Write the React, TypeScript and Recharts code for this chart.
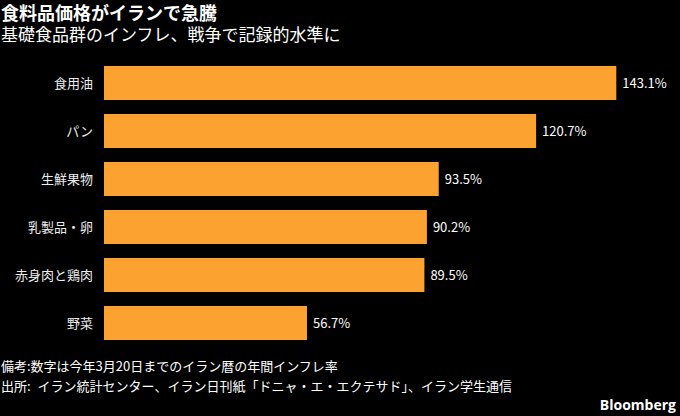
import { BarChart, Bar, XAxis, YAxis, LabelList } from 'recharts'

const categories = ['食用油', 'パン', '生鮮果物', '乳製品・卵', '赤身肉と鶏肉', '野菜']
const inflation = [143.1, 120.7, 93.5, 90.2, 89.5, 56.7]

const data = categories.map((name, i) => ({ name, value: inflation[i] }))

const T = {
  bg: '#000000', bar: '#FBA230', text: '#FFFFFF', label: '#EDEDED',
  font: '"Noto Sans CJK JP", "Noto Sans", sans-serif',
} as const

export default function App() {
  return (
    <div style={{
      position: 'absolute', left: 0, top: 0, width: 680, height: 416,
      backgroundColor: T.bg, fontFamily: T.font, color: T.text, overflow: 'hidden',
    }}>
      <div style={{ position: 'absolute', left: 1, top: 2, fontSize: 18, fontWeight: 700, lineHeight: '20px' }}>
        食料品価格がイランで急騰
      </div>
      <div style={{ position: 'absolute', left: 1, top: 24, fontSize: 17, lineHeight: '20px' }}>
        基礎食品群のインフレ、戦争で記録的水準に
      </div>

      <div style={{ position: 'absolute', left: 0, top: 59 }}>
        <BarChart
          width={680}
          height={288}
          data={data}
          layout="vertical"
          margin={{ top: 0, right: 39, left: 0, bottom: 0 }}
          barCategoryGap={7}
        >
          <XAxis type="number" domain={[0, 150]} hide />
          <YAxis
            type="category"
            dataKey="name"
            width={104}
            axisLine={false}
            tickLine={false}
            tickMargin={5}
            tick={{ fill: T.label, fontSize: 13, fontFamily: T.font }}
          />
          <Bar dataKey="value" fill={T.bar} barSize={34} isAnimationActive={false}>
            <LabelList
              dataKey="value"
              position="right"
              offset={6}
              formatter={(v: number) => `${v}%`}
              style={{ fill: T.text, fontSize: 13, fontFamily: T.font }}
            />
          </Bar>
        </BarChart>
      </div>

      <div style={{ position: 'absolute', left: 1, top: 357, fontSize: 13, lineHeight: '18px' }}>
        備考:数字は今年3月20日までのイラン暦の年間インフレ率
      </div>
      <div style={{ position: 'absolute', left: 1, top: 377, fontSize: 13, lineHeight: '18px', wordSpacing: 4 }}>
        出所: イラン統計センター、イラン日刊紙「ドニャ・エ・エクテサド」、イラン学生通信
      </div>
      <div style={{
        position: 'absolute', right: 4, top: 396, fontSize: 14, fontWeight: 700,
        lineHeight: '18px', fontFamily: '"Open Sans", sans-serif',
      }}>
        Bloomberg
      </div>
    </div>
  )
}
